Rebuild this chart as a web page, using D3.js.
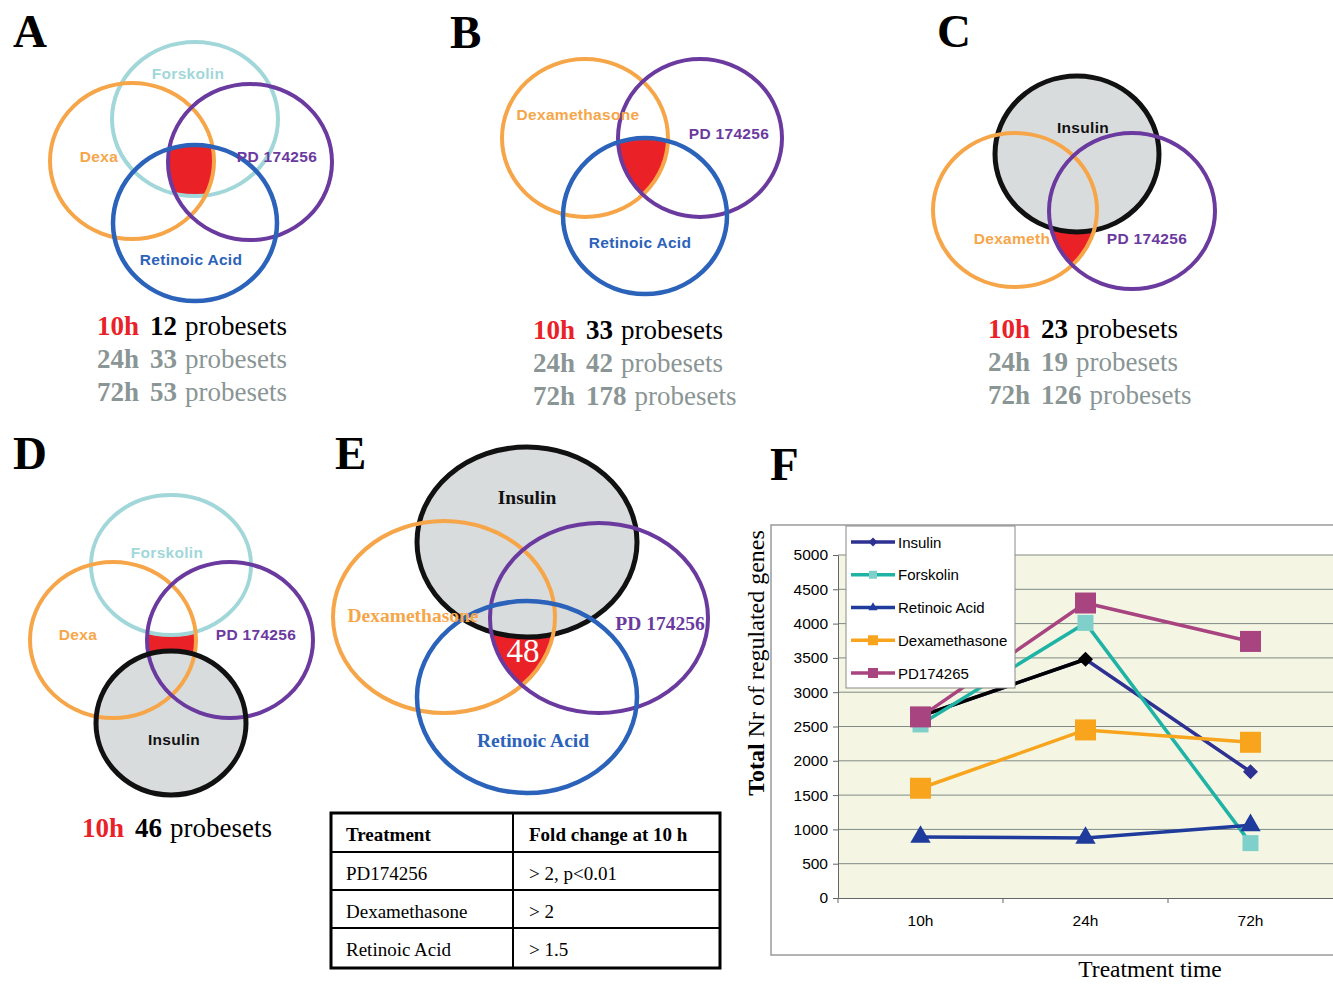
<!DOCTYPE html>
<html><head><meta charset="utf-8">
<script src="https://cdn.jsdelivr.net/npm/d3@7"></script>
<style>body{margin:0;background:#fff}</style>
</head><body>
<svg id="fig" width="1333" height="984"></svg>
<script>
// ================= DATA =================
const timepoints = ["10h", "24h", "72h"];
const seriesNames = ["Insulin", "Forskolin", "Retinoic Acid", "Dexamethasone", "PD174265"];
const insulinValues = [2650, 3480, 1840];
const forskolinValues = [2530, 4010, 800];
const retinoicValues = [890, 875, 1060];
const dexaValues = [1600, 2450, 2270];
const pdValues = [2640, 4300, 3740];
const yTickValues = [0, 500, 1000, 1500, 2000, 2500, 3000, 3500, 4000, 4500, 5000];

const countsA = [["10h", 12], ["24h", 33], ["72h", 53]];
const countsB = [["10h", 33], ["24h", 42], ["72h", 178]];
const countsC = [["10h", 23], ["24h", 19], ["72h", 126]];
const countsD = [["10h", 46]];
const overlapE = 48;

const tableHeader = ["Treatment", "Fold change at 10 h"];
const tableRows = [["PD174256", "> 2, p<0.01"], ["Dexamethasone", "> 2"], ["Retinoic Acid", "> 1.5"]];

// ================= STYLE / LAYOUT =================
const SANS = "'Liberation Sans', Arial, Helvetica, sans-serif";
const SERIF = "'Liberation Serif', 'Times New Roman', serif";
const C = {teal: "#a2d7da", orange: "#f6a649", purple: "#6b3a9f", blue: "#2b62ba",
           black: "#111", gray: "#d9dcdd", red: "#ea2228", countGray: "#8a9595"};

const svg = d3.select("#fig");
const defs = svg.append("defs");
svg.append("rect").attr("width", 1333).attr("height", 984).attr("fill", "#fff");

// ---------- Venn panels ----------
const vennPanels = [
  { id: "A",
    sets: [
      {key: "fors", cx: 195, cy: 119, rx: 83, ry: 77, color: C.teal, w: 4},
      {key: "dexa", cx: 132, cy: 161, rx: 82, ry: 78, color: C.orange, w: 4},
      {key: "pd",   cx: 250, cy: 162, rx: 82, ry: 78, color: C.purple, w: 4},
      {key: "ra",   cx: 195, cy: 223, rx: 82, ry: 78, color: C.blue, w: 4.5}],
    red: ["fors", "dexa", "pd", "ra"], cover: [],
    labels: [
      {t: "Forskolin", x: 188, y: 79, c: C.teal},
      {t: "Dexa", x: 99, y: 162, c: C.orange},
      {t: "PD 174256", x: 277, y: 162, c: C.purple},
      {t: "Retinoic Acid", x: 191, y: 265, c: C.blue}] },
  { id: "B",
    sets: [
      {key: "dexa", cx: 585, cy: 138, rx: 83, ry: 79, color: C.orange, w: 4},
      {key: "pd",   cx: 700, cy: 138, rx: 82, ry: 79, color: C.purple, w: 4},
      {key: "ra",   cx: 645, cy: 216, rx: 82, ry: 78, color: C.blue, w: 4.5}],
    red: ["dexa", "pd", "ra"], cover: [],
    labels: [
      {t: "Dexamethasone", x: 578, y: 120, c: C.orange},
      {t: "PD 174256", x: 729, y: 139, c: C.purple},
      {t: "Retinoic Acid", x: 640, y: 248, c: C.blue}] },
  { id: "C",
    sets: [
      {key: "ins",  cx: 1077, cy: 154, rx: 82, ry: 78, color: C.black, w: 5, fill: C.gray},
      {key: "dexa", cx: 1015, cy: 210, rx: 82, ry: 77, color: C.orange, w: 4},
      {key: "pd",   cx: 1132, cy: 211, rx: 83, ry: 78, color: C.purple, w: 4}],
    red: ["dexa", "pd"], cover: ["ins"],
    labels: [
      {t: "Insulin", x: 1083, y: 133, c: C.black},
      {t: "Dexameth", x: 1012, y: 244, c: C.orange},
      {t: "PD 174256", x: 1147, y: 244, c: C.purple}] },
  { id: "D",
    sets: [
      {key: "fors", cx: 171, cy: 565, rx: 80, ry: 70, color: C.teal, w: 4, fill: "#fff"},
      {key: "dexa", cx: 113, cy: 640, rx: 83, ry: 78, color: C.orange, w: 4},
      {key: "pd",   cx: 230, cy: 640, rx: 83, ry: 78, color: C.purple, w: 4},
      {key: "ins",  cx: 171, cy: 723, rx: 75, ry: 72, color: C.black, w: 5, fill: C.gray}],
    red: ["dexa", "pd"], cover: ["fors", "ins"],
    labels: [
      {t: "Forskolin", x: 167, y: 558, c: C.teal},
      {t: "Dexa", x: 78, y: 640, c: C.orange},
      {t: "PD 174256", x: 256, y: 640, c: C.purple},
      {t: "Insulin", x: 174, y: 745, c: C.black}] },
  { id: "E",
    sets: [
      {key: "ins",  cx: 527, cy: 542, rx: 110, ry: 95, color: C.black, w: 5, fill: C.gray},
      {key: "dexa", cx: 444, cy: 617, rx: 111, ry: 96, color: C.orange, w: 4},
      {key: "pd",   cx: 599, cy: 618, rx: 109, ry: 95, color: C.purple, w: 4},
      {key: "ra",   cx: 527, cy: 697, rx: 110, ry: 96, color: C.blue, w: 4.5}],
    red: ["dexa", "pd", "ra"], cover: ["ins"], serif: true,
    labels: [
      {t: "Insulin", x: 527, y: 504, c: C.black},
      {t: "Dexamethasone", x: 413, y: 622, c: C.orange},
      {t: "PD 174256", x: 660, y: 630, c: C.purple},
      {t: "Retinoic Acid", x: 533, y: 747, c: C.blue}] }
];

vennPanels.forEach(p => {
  const g = svg.append("g").attr("class", "venn-" + p.id);
  const byKey = {};
  p.sets.forEach(s => {
    byKey[s.key] = s;
    defs.append("clipPath").attr("id", `clip-${p.id}-${s.key}`)
      .append("ellipse").attr("cx", s.cx).attr("cy", s.cy).attr("rx", s.rx).attr("ry", s.ry);
  });
  let cur = g;
  p.red.forEach(k => { cur = cur.append("g").attr("clip-path", `url(#clip-${p.id}-${k})`); });
  cur.append("rect").attr("width", 1333).attr("height", 984).attr("fill", C.red);
  p.cover.forEach(k => {
    const s = byKey[k];
    g.append("ellipse").attr("cx", s.cx).attr("cy", s.cy).attr("rx", s.rx).attr("ry", s.ry)
      .attr("fill", s.fill);
  });
  g.selectAll("ellipse.ring").data(p.sets).join("ellipse").attr("class", "ring")
    .attr("cx", d => d.cx).attr("cy", d => d.cy).attr("rx", d => d.rx).attr("ry", d => d.ry)
    .attr("fill", "none").attr("stroke", d => d.color).attr("stroke-width", d => d.w);
  g.selectAll("text.lbl").data(p.labels).join("text").attr("class", "lbl")
    .attr("x", d => d.x).attr("y", d => d.y).attr("text-anchor", "middle")
    .attr("fill", d => d.c).attr("font-weight", "bold")
    .attr("font-family", p.serif ? SERIF : SANS)
    .attr("font-size", p.serif ? 19.5 : 15.5)
    .attr("letter-spacing", p.serif ? 0 : 0.3)
    .text(d => d.t);
});

svg.append("text").attr("x", 523).attr("y", 662).attr("text-anchor", "middle")
  .attr("font-family", SERIF).attr("font-size", 33).attr("fill", "#fff").text(overlapE);

// ---------- probeset counts ----------
function drawCounts(rows, x0, baselines) {
  rows.forEach((r, i) => {
    const t = svg.append("text").attr("x", x0).attr("y", baselines[i])
      .attr("font-family", SERIF).attr("font-size", 27);
    const first = i === 0;
    t.append("tspan").attr("font-weight", "bold").attr("fill", first ? C.red : C.countGray).text(r[0]);
    t.append("tspan").attr("dx", 11).attr("font-weight", "bold").attr("fill", first ? "#000" : C.countGray).text(r[1]);
    t.append("tspan").attr("dx", 8).attr("fill", first ? "#000" : C.countGray).text("probesets");
  });
}
drawCounts(countsA, 97, [335, 368, 401]);
drawCounts(countsB, 533, [339, 372, 405]);
drawCounts(countsC, 988, [338, 371, 404]);
drawCounts(countsD, 82, [837]);

// ---------- panel letters ----------
const panelLetters = [["A", 13, 47], ["B", 450, 48], ["C", 937, 47], ["D", 13, 469], ["E", 335, 469], ["F", 770, 480]];
svg.selectAll("text.letter").data(panelLetters).join("text").attr("class", "letter")
  .attr("x", d => d[1]).attr("y", d => d[2]).attr("font-family", SERIF)
  .attr("font-weight", "bold").attr("font-size", 47).attr("fill", "#000").text(d => d[0]);

// ---------- table ----------
const tbl = {x0: 331, x1: 513, x2: 720, ys: [813, 852, 890, 928, 968]};
const tg = svg.append("g");
const allRows = [tableHeader].concat(tableRows);
allRows.forEach((r, i) => {
  const yb = tbl.ys[i] + 28;
  [r[0], r[1]].forEach((txt, j) => {
    tg.append("text").attr("x", j === 0 ? 346 : 529).attr("y", yb)
      .attr("font-family", SERIF).attr("font-size", 19)
      .attr("font-weight", i === 0 ? "bold" : "normal").attr("fill", "#000").text(txt);
  });
});
tbl.ys.slice(1, -1).forEach(y => {
  tg.append("line").attr("x1", tbl.x0).attr("x2", tbl.x2).attr("y1", y).attr("y2", y)
    .attr("stroke", "#000").attr("stroke-width", 2);
});
tg.append("line").attr("x1", tbl.x1).attr("x2", tbl.x1).attr("y1", tbl.ys[0]).attr("y2", tbl.ys[4])
  .attr("stroke", "#000").attr("stroke-width", 2);
tg.append("rect").attr("x", tbl.x0).attr("y", tbl.ys[0]).attr("width", tbl.x2 - tbl.x0)
  .attr("height", tbl.ys[4] - tbl.ys[0]).attr("fill", "none").attr("stroke", "#000").attr("stroke-width", 3);

// ================= PANEL F : line chart =================
const F = {left: 838, right: 1333, top: 555, bottom: 898};
const fg = svg.append("g");
fg.append("rect").attr("x", 771).attr("y", 525).attr("width", 620).attr("height", 430)
  .attr("fill", "none").attr("stroke", "#9a9a9a").attr("stroke-width", 1.5);

const x = d3.scaleBand().domain(timepoints).range([F.left, F.right]);
const y = d3.scaleLinear().domain([0, 5000]).range([F.bottom, F.top]);
const cx = d => x(d) + x.bandwidth() / 2;

fg.append("rect").attr("x", F.left).attr("y", F.top).attr("width", F.right - F.left)
  .attr("height", F.bottom - F.top).attr("fill", "#f4f6e3");
fg.selectAll("line.grid").data(yTickValues.filter(v => v > 0)).join("line").attr("class", "grid")
  .attr("x1", F.left).attr("x2", F.right).attr("y1", d => y(d)).attr("y2", d => y(d))
  .attr("stroke", "#7f8a86").attr("stroke-width", 1);

const ya = fg.append("g").attr("transform", `translate(${F.left},0)`)
  .call(d3.axisLeft(y).tickValues(yTickValues).tickFormat(d3.format("d")).tickSize(5).tickPadding(5).tickSizeOuter(0));
ya.selectAll("text").attr("font-family", SANS).attr("font-size", 15.5).attr("fill", "#000");
ya.selectAll("line,path").attr("stroke", "#666");

const xa = fg.append("g").attr("transform", `translate(0,${F.bottom})`)
  .call(d3.axisBottom(x).tickSize(0).tickPadding(17));
xa.selectAll("text").attr("font-family", SANS).attr("font-size", 15.5).attr("fill", "#000");
xa.select("path").attr("stroke", "#666");
fg.selectAll("line.xtick").data(timepoints).join("line").attr("class", "xtick")
  .attr("x1", d => x(d)).attr("x2", d => x(d)).attr("y1", F.bottom).attr("y2", F.bottom + 5)
  .attr("stroke", "#666");

const seriesStyle = {
  "Insulin":       {line: "#2e3192", fill: "#2e3192", shape: "diamond", size: 15},
  "Forskolin":     {line: "#1fb3a6", fill: "#7fd0cb", shape: "square", size: 16},
  "Retinoic Acid": {line: "#1f3c9d", fill: "#1f3c9d", shape: "triangle", size: 20},
  "Dexamethasone": {line: "#f8a41c", fill: "#f8a41c", shape: "square", size: 21},
  "PD174265":      {line: "#a8447f", fill: "#a8447f", shape: "square", size: 21}
};
const seriesValues = [insulinValues, forskolinValues, retinoicValues, dexaValues, pdValues];
const series = seriesNames.map((n, i) => ({name: n, values: seriesValues[i].map((v, j) => ({t: timepoints[j], v}))}));

function markerPath(shape, s) {
  if (shape === "square") return d3.symbol(d3.symbolSquare, s * s)();
  if (shape === "diamond") return d3.symbol(d3.symbolSquare, s * s / 2)();
  return d3.symbol(d3.symbolTriangle, s * s * 0.45)();
}
const line = d3.line().x(d => cx(d.t)).y(d => y(d.v));

series.forEach(s => {
  const st = seriesStyle[s.name];
  fg.append("path").datum(s.values).attr("d", line).attr("fill", "none")
    .attr("stroke", st.line).attr("stroke-width", 3.5).attr("stroke-linejoin", "round");
  if (s.name === "Insulin") {
    fg.append("path").datum(s.values.slice(0, 2)).attr("d", line).attr("fill", "none")
      .attr("stroke", "#000").attr("stroke-width", 3.5);
  }
  fg.selectAll(null).data(s.values).join("path")
    .attr("d", markerPath(st.shape, st.size))
    .attr("transform", d => `translate(${cx(d.t)},${y(d.v)})` + (st.shape === "diamond" ? " rotate(45)" : ""))
    .attr("fill", (d, i) => (s.name === "Insulin" && i === 1) ? "#000" : st.fill);
});

const lg = fg.append("g");
lg.append("rect").attr("x", 846).attr("y", 526).attr("width", 169).attr("height", 162)
  .attr("fill", "#fff").attr("stroke", "#8a8a8a").attr("stroke-width", 1);
seriesNames.forEach((n, i) => {
  const st = seriesStyle[n];
  const yy = 542 + i * 32.75;
  lg.append("line").attr("x1", 851).attr("x2", 895).attr("y1", yy).attr("y2", yy)
    .attr("stroke", st.line).attr("stroke-width", 3.5);
  const ms = st.shape === "square" ? (n === "Forskolin" ? 8 : 10) : 9;
  lg.append("path").attr("d", markerPath(st.shape, ms))
    .attr("transform", `translate(873,${yy})` + (st.shape === "diamond" ? " rotate(45)" : ""))
    .attr("fill", st.fill);
  lg.append("text").attr("x", 898).attr("y", yy + 5.5).attr("font-family", SANS)
    .attr("font-size", 15).attr("fill", "#000").text(n);
});

const yt = fg.append("text").attr("transform", "translate(764,663) rotate(-90)")
  .attr("text-anchor", "middle").attr("font-family", SERIF).attr("font-size", 24).attr("fill", "#000");
yt.append("tspan").attr("font-weight", "bold").text("Total");
yt.append("tspan").text(" Nr of regulated genes");
fg.append("text").attr("x", 1150).attr("y", 977).attr("text-anchor", "middle")
  .attr("font-family", SERIF).attr("font-size", 23.5).attr("fill", "#000").text("Treatment time");
</script>
</body></html>
